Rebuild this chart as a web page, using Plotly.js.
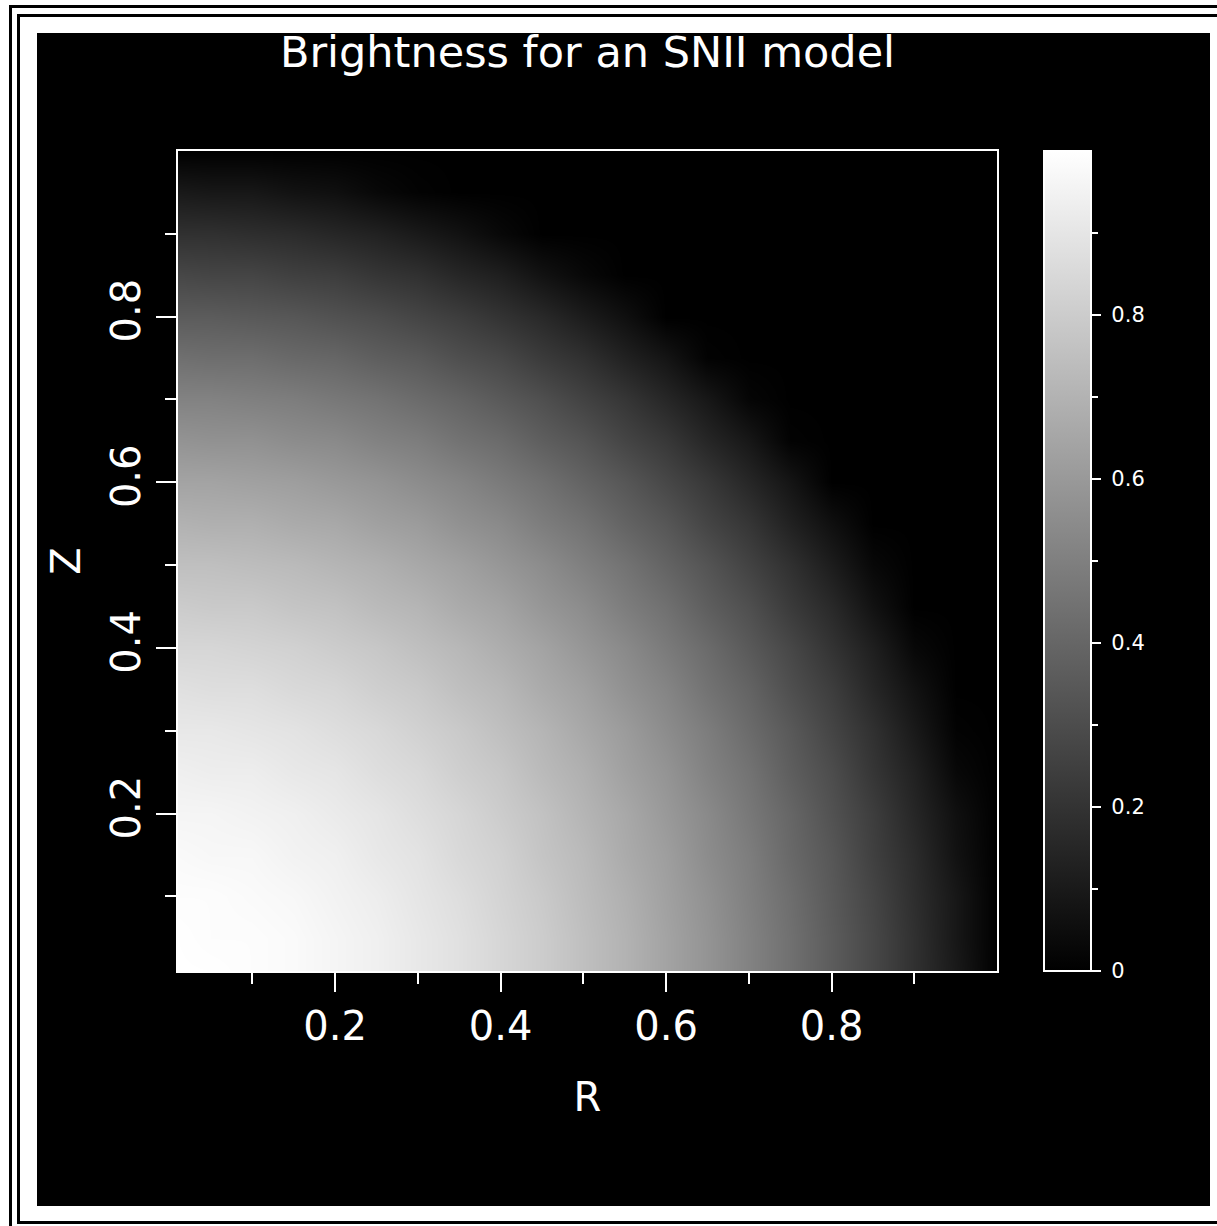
<!DOCTYPE html>
<html><head><meta charset="utf-8">
<script src="https://cdn.plot.ly/plotly-3.0.1.min.js"></script>
<style>
html,body{margin:0;padding:0;background:#fff;width:1217px;height:1226px;overflow:hidden;position:relative}
.ln{position:absolute;background:#000}
#chart{position:absolute;left:37px;top:33px;width:1173px;height:1173px}
</style></head><body>
<div class="ln" style="left:9px;top:5px;width:1208px;height:3px"></div>
<div class="ln" style="left:9px;top:5px;width:3px;height:1221px"></div>
<div class="ln" style="left:17px;top:14px;width:1200px;height:3px"></div>
<div class="ln" style="left:17px;top:14px;width:3px;height:1210px"></div>
<div class="ln" style="left:17px;top:1221px;width:1200px;height:3px"></div>
<div id="chart"></div>
<script>
// Radius R (x) and height Z (y) sample positions
const R_VALUES = [0,0.05,0.1,0.15,0.2,0.25,0.3,0.35,0.4,0.45,0.5,0.55,0.6,0.65,0.7,0.75,0.8,0.85,0.9,0.95,1.0];
const Z_VALUES = [0,0.05,0.1,0.15,0.2,0.25,0.3,0.35,0.4,0.45,0.5,0.55,0.6,0.65,0.7,0.75,0.8,0.85,0.9,0.95,1.0];
// Brightness, one row per Z value (bottom to top)
const BRIGHTNESS = [
 [1.00,1.00,0.99,0.98,0.96,0.94,0.91,0.88,0.84,0.80,0.75,0.70,0.64,0.58,0.51,0.44,0.36,0.28,0.19,0.10,0],
 [1.00,0.99,0.99,0.98,0.96,0.94,0.91,0.88,0.84,0.80,0.75,0.70,0.64,0.58,0.51,0.44,0.36,0.28,0.19,0.09,0],
 [0.99,0.99,0.98,0.97,0.95,0.93,0.90,0.87,0.83,0.79,0.74,0.69,0.63,0.57,0.50,0.43,0.35,0.27,0.18,0.09,0],
 [0.98,0.97,0.97,0.95,0.94,0.91,0.89,0.85,0.82,0.77,0.73,0.67,0.62,0.55,0.49,0.41,0.34,0.25,0.17,0.07,0],
 [0.96,0.96,0.95,0.94,0.92,0.90,0.87,0.84,0.80,0.76,0.71,0.66,0.60,0.54,0.47,0.40,0.32,0.24,0.15,0.06,0],
 [0.94,0.93,0.93,0.91,0.90,0.87,0.85,0.81,0.78,0.73,0.69,0.63,0.58,0.51,0.45,0.37,0.30,0.21,0.13,0.03,0],
 [0.91,0.91,0.90,0.89,0.87,0.85,0.82,0.79,0.75,0.71,0.66,0.61,0.55,0.49,0.42,0.35,0.27,0.19,0.10,0.01,0],
 [0.88,0.87,0.87,0.85,0.84,0.81,0.79,0.75,0.72,0.67,0.63,0.57,0.52,0.45,0.39,0.31,0.24,0.15,0.07,0,0],
 [0.84,0.84,0.83,0.82,0.80,0.78,0.75,0.72,0.68,0.64,0.59,0.54,0.48,0.42,0.35,0.28,0.20,0.12,0.03,0,0],
 [0.80,0.79,0.79,0.77,0.76,0.73,0.71,0.67,0.64,0.59,0.55,0.49,0.44,0.37,0.31,0.23,0.16,0.07,0,0,0],
 [0.75,0.75,0.74,0.73,0.71,0.69,0.66,0.63,0.59,0.55,0.50,0.45,0.39,0.33,0.26,0.19,0.11,0.03,0,0,0],
 [0.70,0.69,0.69,0.67,0.66,0.63,0.61,0.57,0.54,0.49,0.45,0.39,0.34,0.27,0.21,0.13,0.06,0,0,0,0],
 [0.64,0.64,0.63,0.62,0.60,0.58,0.55,0.52,0.48,0.44,0.39,0.34,0.28,0.22,0.15,0.08,0,0,0,0,0],
 [0.58,0.57,0.57,0.55,0.54,0.51,0.49,0.45,0.42,0.37,0.33,0.27,0.22,0.15,0.09,0.01,0,0,0,0,0],
 [0.51,0.51,0.50,0.49,0.47,0.45,0.42,0.39,0.35,0.31,0.26,0.21,0.15,0.09,0.02,0,0,0,0,0,0],
 [0.44,0.43,0.43,0.41,0.40,0.37,0.35,0.31,0.28,0.23,0.19,0.13,0.08,0.01,0,0,0,0,0,0,0],
 [0.36,0.36,0.35,0.34,0.32,0.30,0.27,0.24,0.20,0.16,0.11,0.06,0,0,0,0,0,0,0,0,0],
 [0.28,0.27,0.27,0.25,0.24,0.21,0.19,0.15,0.12,0.07,0.03,0,0,0,0,0,0,0,0,0,0],
 [0.19,0.19,0.18,0.17,0.15,0.13,0.10,0.07,0.03,0,0,0,0,0,0,0,0,0,0,0,0],
 [0.10,0.09,0.09,0.07,0.06,0.03,0.01,0,0,0,0,0,0,0,0,0,0,0,0,0,0],
 [0,0,0,0,0,0,0,0,0,0,0,0,0,0,0,0,0,0,0,0,0]
];
const AXIS_TICKS = [0.2,0.4,0.6,0.8];
const AXIS_MINOR = [0.1,0.3,0.5,0.7,0.9];
const CBAR_TICKS = [0,0.2,0.4,0.6,0.8];
const CBAR_LABELS = ['0','0.2','0.4','0.6','0.8'];
const CBAR_MINOR = [0.1,0.3,0.5,0.7,0.9];
const TITLE = 'Brightness for an SNII model';

const FONT = 'DejaVu Sans';
const gray = [[0,'#000000'],[1,'#ffffff']];
const cbBase = {x:1.0574, xanchor:'left', y:0.5, yanchor:'middle', len:1, lenmode:'fraction',
  thickness:47, thicknessmode:'pixels', xpad:0, ypad:0, outlinecolor:'#ffffff', outlinewidth:2,
  ticks:'outside', tickcolor:'#ffffff', tickwidth:2, bgcolor:'rgba(0,0,0,0)'};

const traces = [
 {type:'heatmap', x:R_VALUES, y:Z_VALUES, z:BRIGHTNESS, zmin:0, zmax:1, zsmooth:'best',
  colorscale:gray, showscale:true, hoverinfo:'skip',
  colorbar:Object.assign({}, cbBase, {tickvals:CBAR_TICKS, ticktext:CBAR_LABELS.map(s=>'\u00a0'+s), ticklen:9,
    tickfont:{family:FONT, size:21, color:'#ffffff'}})},
 {type:'heatmap', x:R_VALUES, y:Z_VALUES, z:BRIGHTNESS, zmin:0, zmax:1, zsmooth:'best',
  colorscale:gray, showscale:true, hoverinfo:'skip',
  colorbar:Object.assign({}, cbBase, {tickvals:CBAR_MINOR, ticktext:CBAR_MINOR.map(()=>''), ticklen:6,
    showticklabels:false})}
];

const axisBase = {range:[0.01,1.0], showgrid:false, zeroline:false, showline:true, mirror:true,
  linecolor:'#ffffff', linewidth:2, ticks:'outside', tickcolor:'#ffffff', tickwidth:2,
  tickmode:'array', tickvals:AXIS_TICKS, ticktext:AXIS_TICKS.map(String),
  tickfont:{family:FONT, size:40, color:'#ffffff'},
  minor:{tickmode:'array', tickvals:AXIS_MINOR, ticks:'outside', ticklen:11, tickwidth:2, tickcolor:'#ffffff', showgrid:false}};

const layout = {
  width:1173, height:1173, paper_bgcolor:'#000000', plot_bgcolor:'#000000',
  margin:{l:141, r:213, t:118, b:235, pad:0},
  showlegend:false,
  title:{text:TITLE, font:{family:FONT, size:43, color:'#ffffff'}, x:0.4693, xanchor:'center', xref:'container',
    y:1, yanchor:'top', yref:'container', pad:{t:4}},
  xaxis:Object.assign({}, axisBase, {ticklen:19, title:{text:'R', font:{family:FONT, size:40, color:'#ffffff'}, standoff:35}}),
  yaxis:Object.assign({}, axisBase, {ticklen:20, tickangle:-90, title:{text:'Z', font:{family:FONT, size:40, color:'#ffffff'}, standoff:10}})
};

Plotly.newPlot('chart', traces, layout, {staticPlot:true, displayModeBar:false});
</script>
</body></html>
